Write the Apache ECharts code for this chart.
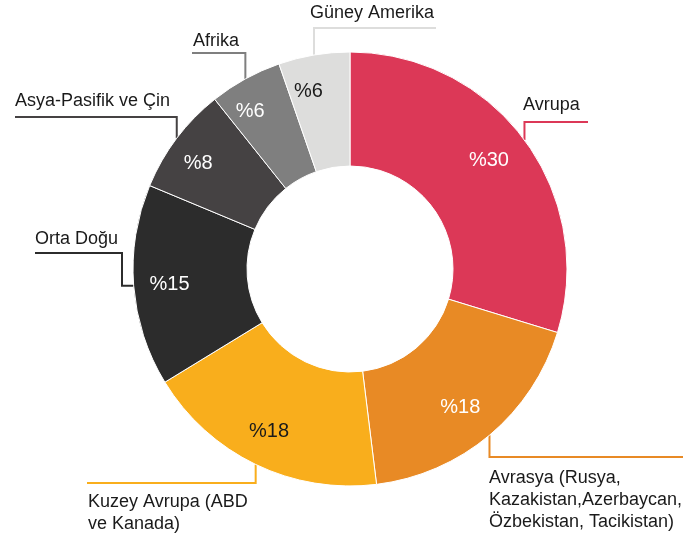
<!DOCTYPE html>
<html>
<head>
<meta charset="utf-8">
<script src="https://cdn.jsdelivr.net/npm/echarts@6/dist/echarts.min.js"></script>
<style>html,body{margin:0;padding:0;background:#fff}#main{width:687px;height:538px}</style>
</head>
<body>
<div id="main"></div>
<script>
// bölgeler ve yüzdeler
var bolgeler = ['Avrupa', 'Avrasya (Rusya,\nKazakistan,Azerbaycan,\nÖzbekistan, Tacikistan)', 'Kuzey Avrupa (ABD\nve Kanada)', 'Orta Doğu', 'Asya-Pasifik ve Çin', 'Afrika', 'Güney Amerika']
// dilim büyüklükleri (resimden okunan açılar)
var paylar = [29.7, 18.3, 18.2, 15.0, 8.0, 5.4, 5.3]
// dilim üstünde yazan yüzdeler
var yuzdeler = [30, 18, 18, 15, 8, 6, 6]

// renkler
var renkler = ['#dc3857', '#e88a25', '#f9ae1c', '#2c2c2c', '#454243', '#7f7f7f', '#dddddc']
var yaziRenkleri = ['#fff', '#fff', '#1a1a1a', '#fff', '#fff', '#fff', '#1a1a1a']

// etiket yerleri: yazı x,y ve çizginin kırılma noktaları
var etiketYeri = [
    {x: 523, y: 116, va: 'bottom', lineY: 122, endX: 588},
    {x: 489, y: 467, va: 'top', lineY: 457, endX: 683},
    {x: 88, y: 491, va: 'top', lineY: 483, endX: 87},
    {x: 35, y: 250, va: 'bottom', lineY: 253, endX: 35, kirik: 122},
    {x: 15, y: 112, va: 'bottom', lineY: 117, endX: 15},
    {x: 193, y: 52, va: 'bottom', lineY: 53, endX: 192},
    {x: 310, y: 24, va: 'bottom', lineY: 28, endX: 436}
]
// yüzde yazılarının küçük kaydırmaları
var yuzdeKaydir = [[-9, 1], [-8, -2], [-1, -3], [3, 1], [-5, 5], [-11, 4], [-11, 4]]

var dilimler = bolgeler.map(function (n, i) {
    return {name: n, value: paylar[i]}
})
var yuzdeDilimler = bolgeler.map(function (n, i) {
    return {name: n, value: paylar[i], label: {color: yaziRenkleri[i]}}
})

var font = '"Liberation Sans", Arial, sans-serif'

var pasta = {
    animation: false,
    color: renkler,
    series: [
        {
            type: 'pie',
            radius: [103, 217],
            center: [350, 269],
            startAngle: 90,
            clockwise: true,
            avoidLabelOverlap: false,
            silent: true,
            itemStyle: {borderColor: '#fff', borderWidth: 1},
            label: {
                show: true,
                position: 'outside',
                color: '#1a1a1a',
                fontSize: 18,
                lineHeight: 22,
                fontFamily: font,
                overflow: 'none',
                bleedMargin: 0
            },
            labelLine: {show: true, length: 10, length2: 10, smooth: false, lineStyle: {width: 2}},
            labelLayout: function (p) {
                var e = etiketYeri[p.dataIndex]
                var bas = p.labelLinePoints[0]
                var noktalar
                if (e.kirik) {
                    noktalar = [bas, [e.kirik, bas[1]], [e.kirik, e.lineY], [e.endX, e.lineY]]
                } else {
                    noktalar = [bas, [bas[0], e.lineY], [e.endX, e.lineY]]
                }
                return {x: e.x, y: e.y, align: 'left', verticalAlign: e.va, labelLinePoints: noktalar}
            },
            data: dilimler
        },
        {
            // yüzde yazıları için şeffaf halka
            type: 'pie',
            radius: [145, 217],
            center: [350, 269],
            startAngle: 90,
            clockwise: true,
            silent: true,
            itemStyle: {color: 'rgba(0,0,0,0)'},
            label: {
                show: true,
                position: 'inside',
                formatter: function (p) {
                    return '%' + yuzdeler[p.dataIndex]
                },
                fontSize: 20,
                fontFamily: font
            },
            labelLine: {show: false},
            labelLayout: function (p) {
                var k = yuzdeKaydir[p.dataIndex]
                return {dx: k[0], dy: k[1]}
            },
            data: yuzdeDilimler
        }
    ]
}

var grafik = echarts.init(document.getElementById('main'))
grafik.setOption(pasta)

window.onresize = function () {
    grafik.resize()
}
</script>
</body>
</html>
